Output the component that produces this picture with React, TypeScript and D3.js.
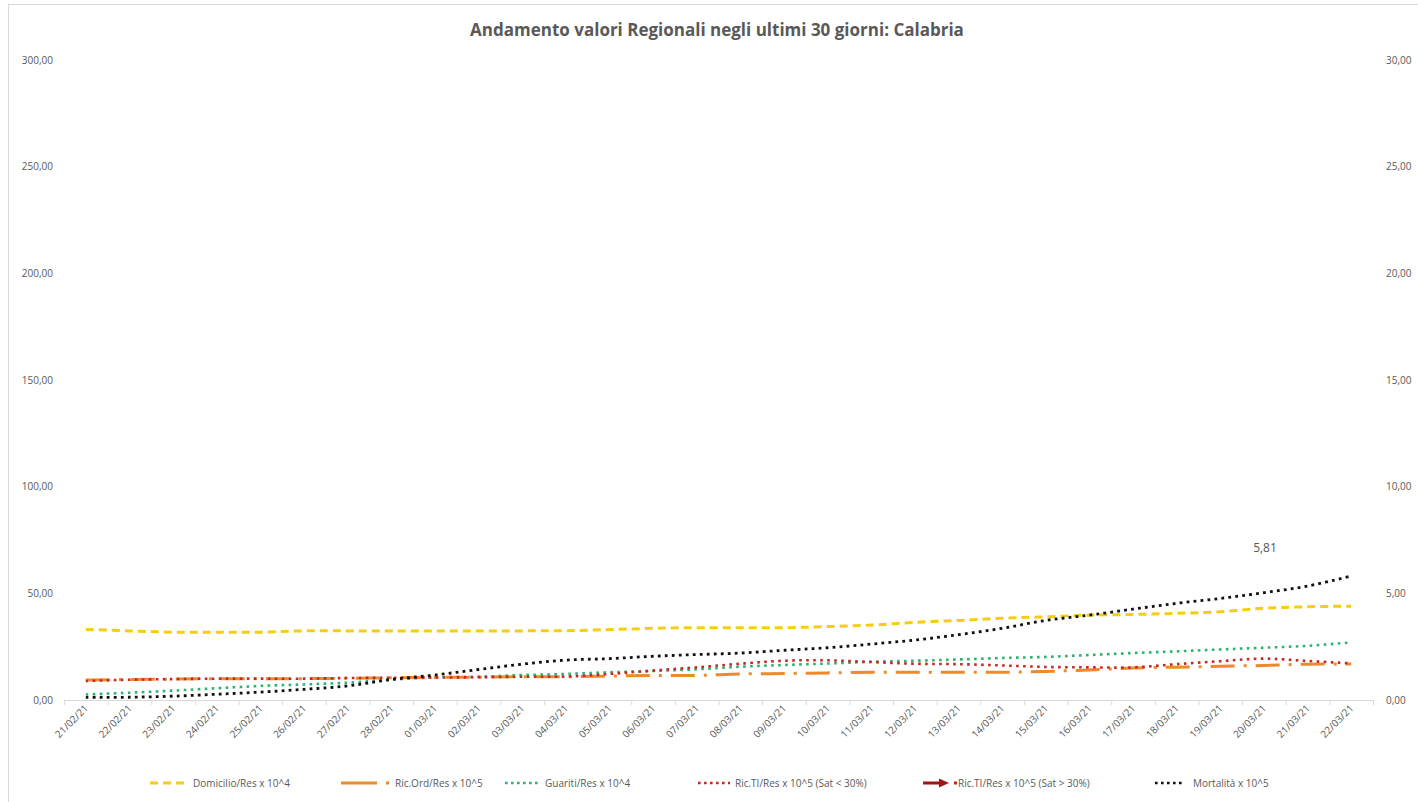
import React from 'react';
import * as d3 from 'd3';

const categories = [
  '21/02/21', '22/02/21', '23/02/21', '24/02/21', '25/02/21', '26/02/21', '27/02/21', '28/02/21',
  '01/03/21', '02/03/21', '03/03/21', '04/03/21', '05/03/21', '06/03/21', '07/03/21', '08/03/21',
  '09/03/21', '10/03/21', '11/03/21', '12/03/21', '13/03/21', '14/03/21', '15/03/21', '16/03/21',
  '17/03/21', '18/03/21', '19/03/21', '20/03/21', '21/03/21', '22/03/21',
];

// left axis series
const domicilio = [33.1, 32.4, 31.8, 31.7, 31.8, 32.4, 32.4, 32.4, 32.4, 32.4, 32.4, 32.5, 33.0, 33.6, 33.9,
  33.9, 33.9, 34.4, 35.1, 36.4, 37.3, 38.3, 39.0, 39.8, 40.1, 40.6, 41.4, 43.0, 43.7, 44.0];
const ricOrd = [9.4, 9.6, 9.8, 10.0, 10.0, 10.0, 10.2, 10.4, 10.6, 10.7, 10.9, 10.9, 11.2, 11.5, 11.5,
  12.2, 12.4, 12.7, 13.0, 13.0, 13.0, 13.0, 13.4, 14.1, 15.0, 15.4, 15.8, 16.2, 16.8, 16.9];
const guariti = [2.6, 3.4, 4.4, 5.5, 6.6, 7.3, 8.1, 9.5, 10.6, 10.9, 11.7, 12.2, 13.0, 13.6, 14.4,
  15.6, 16.4, 17.1, 17.9, 18.4, 19.0, 19.7, 20.2, 21.1, 22.0, 22.8, 23.7, 24.5, 25.4, 27.0];
// right axis series
const ricTI = [0.89, 0.95, 0.98, 1.0, 1.0, 1.0, 1.03, 1.04, 1.05, 1.07, 1.09, 1.1, 1.22, 1.38, 1.53,
  1.7, 1.84, 1.86, 1.78, 1.7, 1.68, 1.62, 1.55, 1.53, 1.53, 1.68, 1.82, 1.94, 1.83, 1.72];
const mortalita = [0.12, 0.13, 0.18, 0.27, 0.37, 0.5, 0.66, 0.96, 1.17, 1.43, 1.68, 1.87, 1.94, 2.05, 2.13,
  2.2, 2.33, 2.45, 2.62, 2.81, 3.06, 3.36, 3.73, 3.98, 4.26, 4.53, 4.76, 5.03, 5.34, 5.81];

const leftTicks = [0, 50, 100, 150, 200, 250, 300];
const rightTicks = [0, 5, 10, 15, 20, 25, 30];

const title = 'Andamento valori Regionali negli ultimi 30 giorni: Calabria';
const legendLabels = [
  'Domicilio/Res x 10^4',
  'Ric.Ord/Res x 10^5',
  'Guariti/Res x 10^4',
  'Ric.TI/Res x 10^5 (Sat < 30%)',
  'Ric.TI/Res x 10^5 (Sat > 30%)',
  'Mortalità x 10^5',
];

const FONT = '"Open Sans", sans-serif';
const GREY = '#595959';
const fmt = (v: number) => v.toFixed(2).replace('.', ',');

export default function App() {
  const W = 1418, H = 802;
  const x = d3.scaleBand<string>().domain(categories).range([64, 1373]);
  const yL = d3.scaleLinear().domain([0, 300]).range([700, 60]);
  const yR = d3.scaleLinear().domain([0, 30]).range([700, 60]);
  const cx = (i: number) => (x(categories[i]) as number) + x.bandwidth() / 2;

  const lineL = d3.line<number>().x((_, i) => cx(i)).y(d => yL(d)).curve(d3.curveCatmullRom.alpha(0.5));
  const lineR = d3.line<number>().x((_, i) => cx(i)).y(d => yR(d)).curve(d3.curveCatmullRom.alpha(0.5));

  const series = [
    { d: lineL(guariti), color: '#2DB36F', w: 2.6, dash: '2.6 4.4' },
    { d: lineL(ricOrd), color: '#EE8A2B', w: 3, dash: '24 9 3 9' },
    { d: lineR(ricTI), color: '#C62828', w: 2.6, dash: '2.6 4.4' },
    { d: lineL(domicilio), color: '#F5CD12', w: 3, dash: '8 5' },
    { d: lineR(mortalita), color: '#111111', w: 2.8, dash: '2.8 4.2' },
  ];

  const last = mortalita.length - 1;
  const legendY = 783;
  const bounds = x.range();
  const ticksX = categories.map((c) => x(c) as number).concat([bounds[1]]);

  return (
    <svg width={W} height={H} style={{ position: 'absolute', left: 0, top: 0, background: '#fff' }}>
      <rect x={8.5} y={4.5} width={1430} height={820} fill="#fff" stroke="#D9D9D9" strokeWidth={1} />
      <text x={717} y={36} textAnchor="middle" fontFamily={FONT} fontWeight={700} fontSize={17} fill={GREY}>{title}</text>

      {leftTicks.map(t => (
        <text key={'l' + t} x={53} y={yL(t) + 3.5} textAnchor="end" fontFamily={FONT} fontSize={10} fill={GREY}>{fmt(t)}</text>
      ))}
      {rightTicks.map(t => (
        <text key={'r' + t} x={1386} y={yR(t) + 3.5} textAnchor="start" fontFamily={FONT} fontSize={10} fill={GREY}>{fmt(t)}</text>
      ))}

      <line x1={bounds[0]} x2={bounds[1]} y1={700.5} y2={700.5} stroke="#D9D9D9" strokeWidth={1} />
      {ticksX.map((tx, i) => (
        <line key={'t' + i} x1={tx + 0.5} x2={tx + 0.5} y1={700} y2={705} stroke="#D9D9D9" strokeWidth={1} />
      ))}
      {categories.map((c, i) => (
        <text key={c} transform={`translate(${cx(i) + 3},${709}) rotate(-45)`} textAnchor="end"
          fontFamily={FONT} fontSize={10} fill={GREY}>{c}</text>
      ))}

      {series.map((s, i) => (
        <path key={'s' + i} d={s.d || ''} fill="none" stroke={s.color} strokeWidth={s.w} strokeDasharray={s.dash} />
      ))}

      <text x={1265} y={552} textAnchor="middle" fontFamily={FONT} fontSize={12} fill={GREY}>{fmt(mortalita[last])}</text>

      {/* legend */}
      <g fontFamily={FONT} fontSize={10} fill={GREY}>
        <line x1={150} x2={186} y1={legendY} y2={legendY} stroke="#F5CD12" strokeWidth={3} strokeDasharray="8 5" />
        <text x={193} y={legendY + 3.5}>{legendLabels[0]}</text>

        <line x1={341} x2={392} y1={legendY} y2={legendY} stroke="#EE8A2B" strokeWidth={3} strokeDasharray="36 9 3 9" />
        <text x={395} y={legendY + 3.5}>{legendLabels[1]}</text>

        <line x1={505} x2={539} y1={legendY} y2={legendY} stroke="#2DB36F" strokeWidth={2.6} strokeDasharray="2.6 3.4" />
        <text x={545} y={legendY + 3.5}>{legendLabels[2]}</text>

        <line x1={698} x2={730} y1={legendY} y2={legendY} stroke="#C62828" strokeWidth={2.6} strokeDasharray="2.6 3.4" />
        <text x={735} y={legendY + 3.5}>{legendLabels[3]}</text>

        <line x1={923} x2={941} y1={legendY} y2={legendY} stroke="#A31515" strokeWidth={3} />
        <path d={`M939,${legendY - 4.5} L949,${legendY} L939,${legendY + 4.5} Z`} fill="#A31515" />
        <rect x={954} y={legendY - 1.5} width={3} height={3} fill="#C62828" />
        <text x={958} y={legendY + 3.5}>{legendLabels[4]}</text>

        <line x1={1155} x2={1185} y1={legendY} y2={legendY} stroke="#111111" strokeWidth={2.6} strokeDasharray="2.6 3.4" />
        <text x={1193} y={legendY + 3.5}>{legendLabels[5]}</text>
      </g>
    </svg>
  );
}
